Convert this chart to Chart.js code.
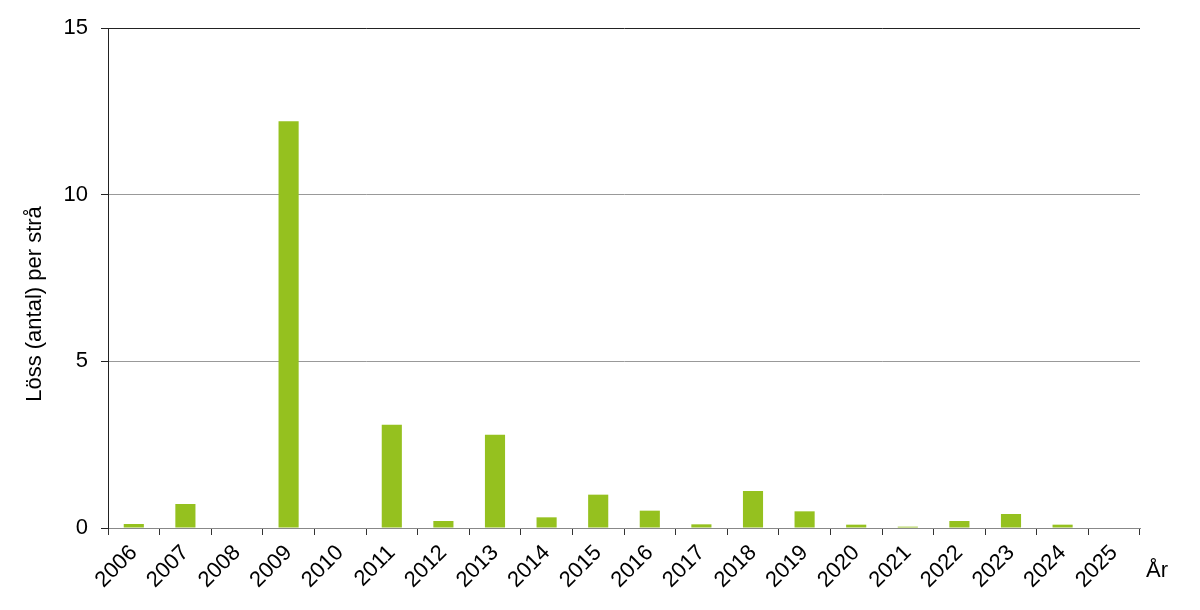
<!DOCTYPE html>
<html>
<head>
<meta charset="utf-8">
<script src="https://cdn.jsdelivr.net/npm/chart.js@4.4.0/dist/chart.umd.min.js"></script>
<style>
  body { margin: 0; background: #fff; }
  #wrap { width: 1200px; height: 610px; position: relative; }
</style>
</head>
<body>
<div id="wrap"><canvas id="displayGraph"></canvas></div>
<script>
const years = ["2006", "2007", "2008", "2009", "2010", "2011", "2012", "2013", "2014", "2015",
    "2016", "2017", "2018", "2019", "2020", "2021", "2022", "2023", "2024", "2025"];
const lice = [0.12, 0.72, 0, 12.2, 0, 3.1, 0.21, 2.8, 0.32, 1.0,
    0.52, 0.11, 1.11, 0.5, 0.1, 0.04, 0.21, 0.42, 0.1, 0];
const yTicks = [0, 5, 10, 15];
const yTitle = "Löss (antal) per strå";
const xTitle = "År";

const FONT = "'Liberation Sans', Arial, sans-serif";

// axis titles: "År" at the right end of the x axis, y title a bit below centre
const axisTexts = {
    id: "axisTexts",
    afterDraw(chart) {
        const ctx = chart.ctx;
        ctx.save();
        ctx.fillStyle = "#000";
        ctx.font = "22px " + FONT;
        ctx.textAlign = "left";
        ctx.textBaseline = "middle";
        ctx.fillText(xTitle, chart.chartArea.right + 6, 571);

        ctx.font = "22px " + FONT;
        ctx.translate(35, 304);
        ctx.rotate(-Math.PI / 2);
        ctx.textAlign = "center";
        ctx.fillText(yTitle, 0, 0);
        ctx.restore();
    }
};

const myChart = new Chart("displayGraph", {
    type: "bar",
    data: {
        labels: years,
        datasets: [{
            data: lice,
            backgroundColor: "#95c11f",
            barPercentage: 0.39,
            categoryPercentage: 1
        }]
    },
    options: {
        responsive: true,
        maintainAspectRatio: false,
        animation: false,
        layout: { padding: { left: 0, right: 60, top: 28, bottom: 0 } },
        plugins: {
            legend: { display: false },
            tooltip: { enabled: false }
        },
        scales: {
            x: {
                offset: true,
                grid: {
                    offset: true,
                    drawOnChartArea: false,
                    color: "#333",
                    tickLength: 7
                },
                border: { color: "#888", width: 1 },
                ticks: {
                    color: "#000",
                    font: { family: FONT, size: 22 },
                    maxRotation: 45,
                    minRotation: 45,
                    padding: 5
                },
                afterFit(scale) { scale.height = 82; }
            },
            y: {
                min: 0,
                max: 15,
                afterBuildTicks(scale) { scale.ticks = yTicks.map(v => ({ value: v })); },
                grid: {
                    color: ctx => ctx.tick && ctx.tick.value === 15 ? "#222" : "#999",
                    tickColor: "#222",
                    tickLength: 7
                },
                border: { color: "#222", width: 1 },
                ticks: {
                    color: "#000",
                    font: { family: FONT, size: 22 },
                    padding: 13
                },
                afterFit(scale) { scale.width = 108; }
            }
        }
    },
    plugins: [axisTexts]
});
</script>
</body>
</html>
